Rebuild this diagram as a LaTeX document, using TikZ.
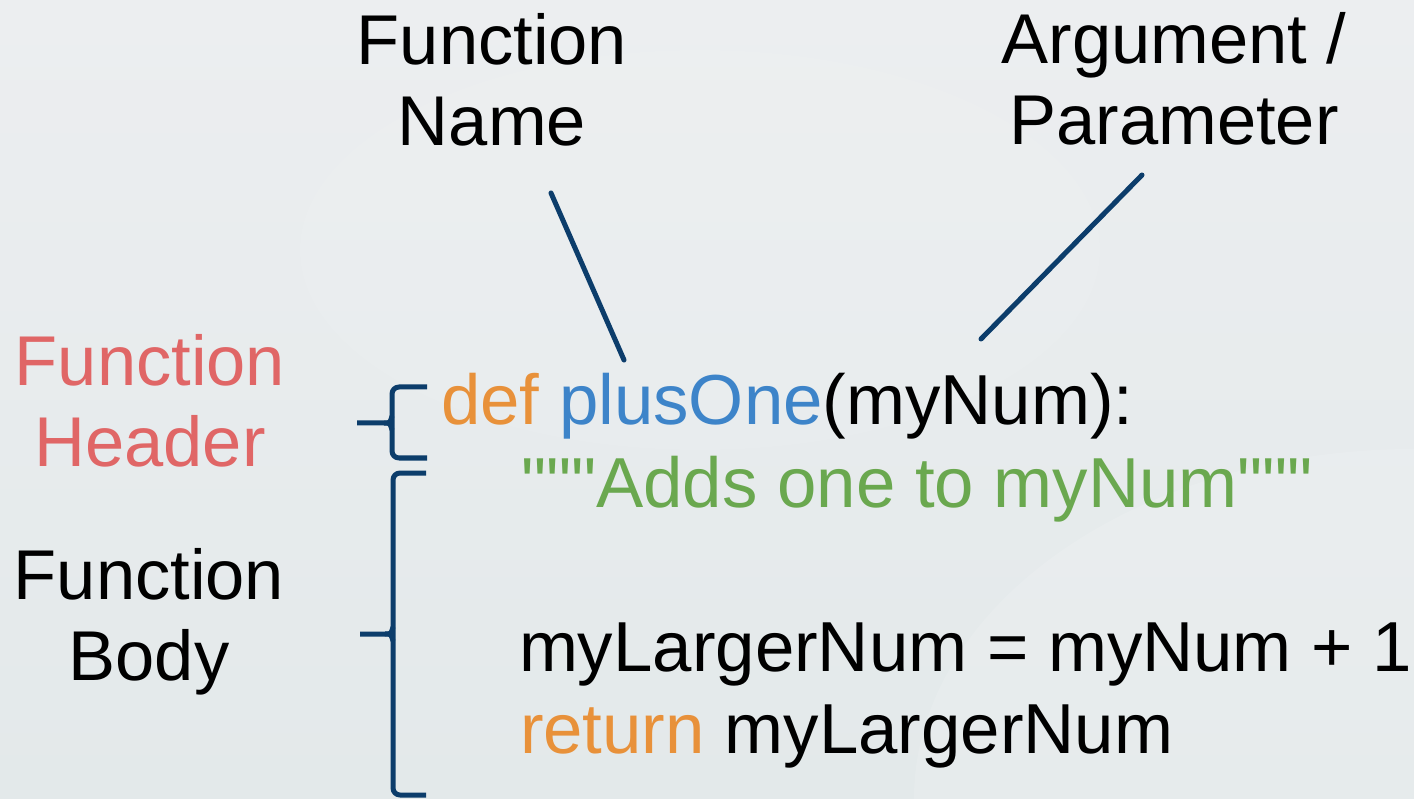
\documentclass[tikz,border=0pt]{standalone}
\usepackage{fontspec}
\setmainfont{Liberation Sans}[Ligatures=TeXOff]
\definecolor{kwOrange}{HTML}{E8913A}
\definecolor{fnBlue}{HTML}{3D84C9}
\definecolor{docGreen}{HTML}{6AA84F}
\definecolor{hdrRed}{HTML}{E06666}
\definecolor{navyLine}{HTML}{0C3D6B}
\definecolor{bgA}{HTML}{E3E9EA}
\definecolor{bgB}{HTML}{ECEEF0}
\begin{document}
\begin{tikzpicture}[x=1pt,y=-1pt,
  bigtext/.style={inner sep=0pt,outer sep=0pt,font=\fontsize{70.5}{81}\selectfont},
  codetext/.style={inner sep=0pt,outer sep=0pt,font=\fontsize{70.8}{82}\selectfont},
  label/.style={bigtext,align=center,anchor=base},
  codeline/.style={codetext,anchor=base west},
  pointer/.style={draw=navyLine,line width=5pt,line cap=round},
  bracket/.style={draw=navyLine,line width=5pt,line cap=butt,line join=round}]
\useasboundingbox (0,0) rectangle (1414,799);
\shade[bottom color=bgA,top color=bgB] (0,799) rectangle (1414,0);
\fill[white,opacity=0.12] (1414,799) ellipse [x radius=500pt,y radius=350pt];
\fill[white,opacity=0.06] (700,250) ellipse [x radius=400pt,y radius=200pt];

% labels (anchor = baseline of last line)
\node[label] (fname) at (492,146) {Function\\Name};
\node[label] (fparam) at (1174,145) {Argument /\\Parameter};
\node[label,text=hdrRed] (fheader) at (150,466) {Function\\Header};
\node[label] (fbody) at (149,680) {Function\\Body};

% code
\node[codeline] (c1) at (441,425) {\textcolor{kwOrange}{def} \textcolor{fnBlue}{plusOne}(myNum):};
\node[codeline,text=docGreen] (c2) at (521,507) {"""Adds one to myNum"""};
\node[codeline] (c3) at (519,671) {myLargerNum = myNum + 1};
\node[codeline] (c4) at (520,753) {\textcolor{kwOrange}{return} myLargerNum};

% pointer lines
\coordinate (nameStart) at (551,193);
\coordinate (nameEnd) at (624,360);
\coordinate (paramStart) at (1142,175);
\coordinate (paramEnd) at (981,339);
\draw[pointer] (nameStart) -- (nameEnd);
\draw[pointer] (paramStart) -- (paramEnd);

% header brace
\coordinate (hTop) at (427,387);
\coordinate (hBot) at (427,458);
\coordinate (hTip) at (357,423);
\draw[bracket,rounded corners=7pt] (hTop) -- (392,387) -- (392,458) -- (hBot);
\draw[bracket] (hTip) -- (384,423) .. controls (390,423) .. (392,416);
\draw[bracket] (384,423) .. controls (390,423) .. (392,430);

% body brace
\coordinate (bTop) at (426,473);
\coordinate (bBot) at (426,795);
\coordinate (bTip) at (360,634);
\draw[bracket,rounded corners=7pt] (bTop) -- (393,473) -- (393,795) -- (bBot);
\draw[bracket] (bTip) -- (385,634) .. controls (391,634) .. (393,627);
\draw[bracket] (385,634) .. controls (391,634) .. (393,641);
\end{tikzpicture}
\end{document}
